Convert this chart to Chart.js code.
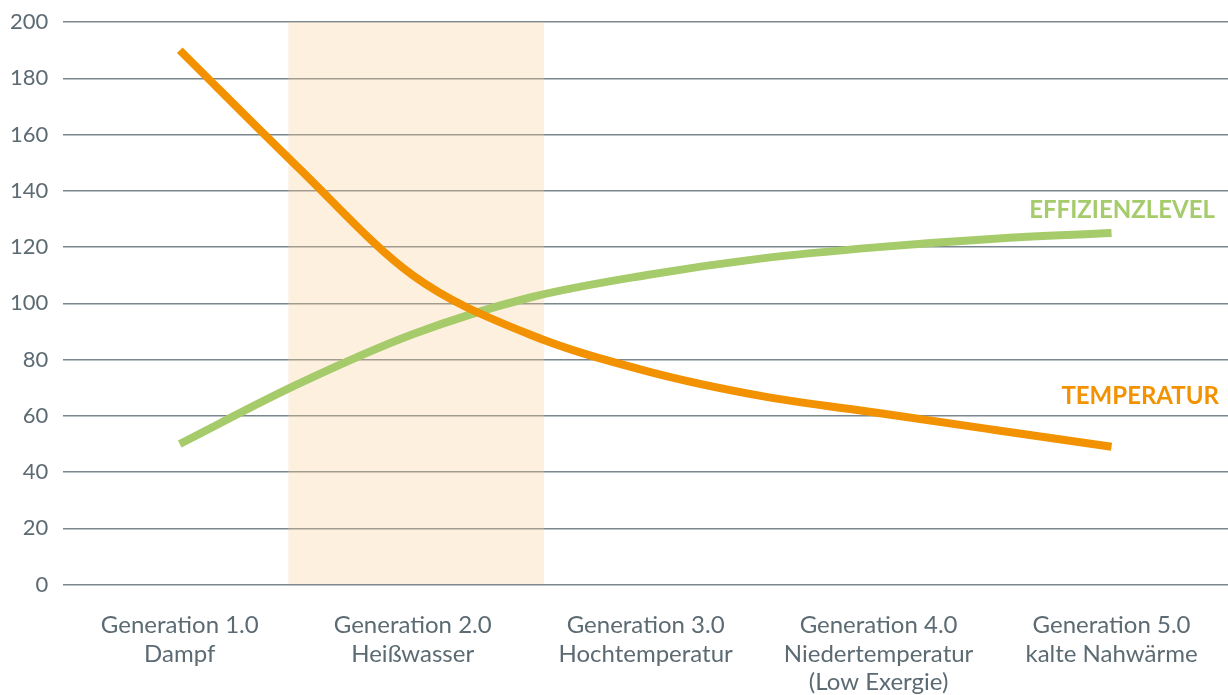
<!DOCTYPE html>
<html lang="de">
<head>
<meta charset="utf-8">
<script src="https://cdn.jsdelivr.net/npm/chart.js@4.4.1/dist/chart.umd.min.js"></script>
<style>
  html, body { margin: 0; padding: 0; background: #fff; }
  #wrap { position: relative; width: 1228px; height: 695px; }
</style>
</head>
<body>
<div id="wrap"><canvas id="chart"></canvas></div>
<script>
// ---------------------------------------------------------------------------
// Data
// ---------------------------------------------------------------------------

var categories = [
  ['Generation 1.0', 'Dampf'],
  ['Generation 2.0', 'Heißwasser'],
  ['Generation 3.0', 'Hochtemperatur'],
  ['Generation 4.0', 'Niedertemperatur', '(Low Exergie)'],
  ['Generation 5.0', 'kalte Nahwärme'],
];

// sample positions along the generation axis (1 = Generation 1.0 ...)
var positions = [1, 1.5, 2, 2.5, 3, 3.5, 4, 4.5, 5];
var temperatur = [190, 149, 110, 89, 76, 67, 61, 55, 49];
var effizienz = [50, 71, 89, 102, 110, 116, 120, 123, 125];

var seriesNames = ['TEMPERATUR', 'EFFIZIENZLEVEL'];
var yTicks = [0, 20, 40, 60, 80, 100, 120, 140, 160, 180, 200];

// highlighted generation band
var bandPosition = 2.015;
var bandTop = 200;

// ---------------------------------------------------------------------------
// Chart
// ---------------------------------------------------------------------------

var ORANGE = '#f39200';
var GREEN = '#a6cb6b';
var TEXT = '#5c6b73';
var FONT = 'Lato, "Open Sans", sans-serif';

function toPoints(values) {
  return values.map(function (v, i) { return { x: positions[i], y: v }; });
}

// Series names at the right end of each curve
var seriesLabels = {
  id: 'seriesLabels',
  afterDatasetsDraw: function (chart, args, opts) {
    var ctx = chart.ctx;
    var y = chart.scales.y;
    ctx.save();
    ctx.font = 'bold 24px ' + FONT;
    ctx.textAlign = 'right';
    ctx.textBaseline = 'middle';
    opts.items.forEach(function (it) {
      ctx.fillStyle = it.color;
      ctx.fillText(it.text, chart.chartArea.right - it.right, y.getPixelForValue(it.at));
    });
    ctx.restore();
  },
};

new Chart(document.getElementById('chart'), {
  data: {
    datasets: [
      {
        type: 'line',
        label: seriesNames[0],
        data: toPoints(temperatur),
        borderColor: ORANGE,
        borderWidth: 8,
        borderCapStyle: 'butt',
        pointRadius: 0,
        cubicInterpolationMode: 'monotone',
        order: 1,
      },
      {
        type: 'line',
        label: seriesNames[1],
        data: toPoints(effizienz),
        borderColor: GREEN,
        borderWidth: 8,
        borderCapStyle: 'butt',
        pointRadius: 0,
        cubicInterpolationMode: 'monotone',
        order: 1,
      },
      {
        type: 'bar',
        label: 'band',
        data: [{ x: bandPosition, y: bandTop }],
        backgroundColor: 'rgba(251, 205, 150, 0.3)',
        barThickness: 255,
        order: 2,
      },
    ],
  },
  plugins: [seriesLabels],
  options: {
    responsive: true,
    maintainAspectRatio: false,
    animation: false,
    layout: { padding: { left: -5, top: 0, right: 0, bottom: -20 } },
    plugins: {
      legend: { display: false },
      tooltip: { enabled: false },
      seriesLabels: {
        items: [
          { text: seriesNames[1], color: GREEN, at: 133, right: 13 },
          { text: seriesNames[0], color: ORANGE, at: 67, right: 9 },
        ],
      },
    },
    scales: {
      x: {
        type: 'linear',
        min: 0.5,
        max: 5.5,
        offset: false,
        afterBuildTicks: function (s) {
          s.ticks = categories.map(function (c, i) { return { value: i + 1 }; });
        },
        grid: { display: false },
        border: { display: false },
        ticks: {
          padding: 18,
          maxRotation: 0,
          autoSkip: false,
          color: TEXT,
          font: { family: FONT, size: 24, lineHeight: 1.2 },
          callback: function (v) { return categories[v - 1]; },
        },
      },
      y: {
        min: 0,
        max: 200,
        afterBuildTicks: function (s) {
          s.ticks = yTicks.map(function (v) { return { value: v }; });
        },
        grid: { color: '#7b878d', lineWidth: 1.5, drawTicks: false },
        border: { display: false },
        ticks: {
          padding: 15,
          color: TEXT,
          font: { family: FONT, size: 22, lineHeight: 0.65 },
        },
      },
    },
  },
});
</script>
</body>
</html>
